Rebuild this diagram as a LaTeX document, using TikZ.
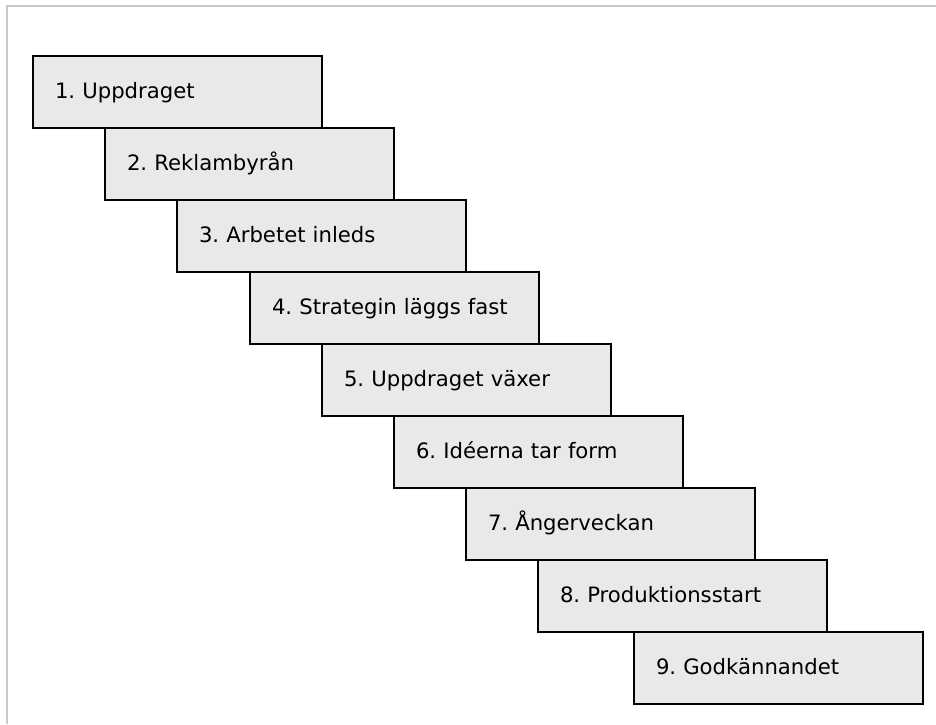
\documentclass[tikz,border=0pt]{standalone}
\usepackage{fontspec}
\setmainfont{DejaVu Sans}
\definecolor{boxfill}{RGB}{233,233,233}
\definecolor{framegray}{RGB}{200,200,200}
\begin{document}
\begin{tikzpicture}[x=1pt,y=-1pt,
  stepbox/.style={draw=black, line width=2pt, fill=boxfill, rectangle,
    anchor=north west, minimum width=289pt, minimum height=72pt,
    text width=245pt, inner xsep=22pt, inner ysep=0pt, align=left,
    font=\fontsize{21.2}{25}\selectfont\frenchspacing, text height=16.5pt, text depth=4.5pt},
  frameline/.style={draw=framegray, line width=2pt}]
\useasboundingbox (0,0) rectangle (936,724);
\draw[frameline] (7,724) -- (7,6) -- (936,6);
\node[stepbox] (s1) at (32,55)  {1. Uppdraget};
\node[stepbox] (s2) at (104,127) {2. Reklambyrån};
\node[stepbox] (s3) at (176,199) {3. Arbetet inleds};
\node[stepbox] (s4) at (249,271) {4. Strategin läggs fast};
\node[stepbox] (s5) at (321,343) {5. Uppdraget växer};
\node[stepbox] (s6) at (393,415) {6. Idéerna tar form};
\node[stepbox] (s7) at (465,487) {7. Ångerveckan};
\node[stepbox] (s8) at (537,559) {8. Produktionsstart};
\node[stepbox] (s9) at (633,631) {9. Godkännandet};
\end{tikzpicture}
\end{document}
